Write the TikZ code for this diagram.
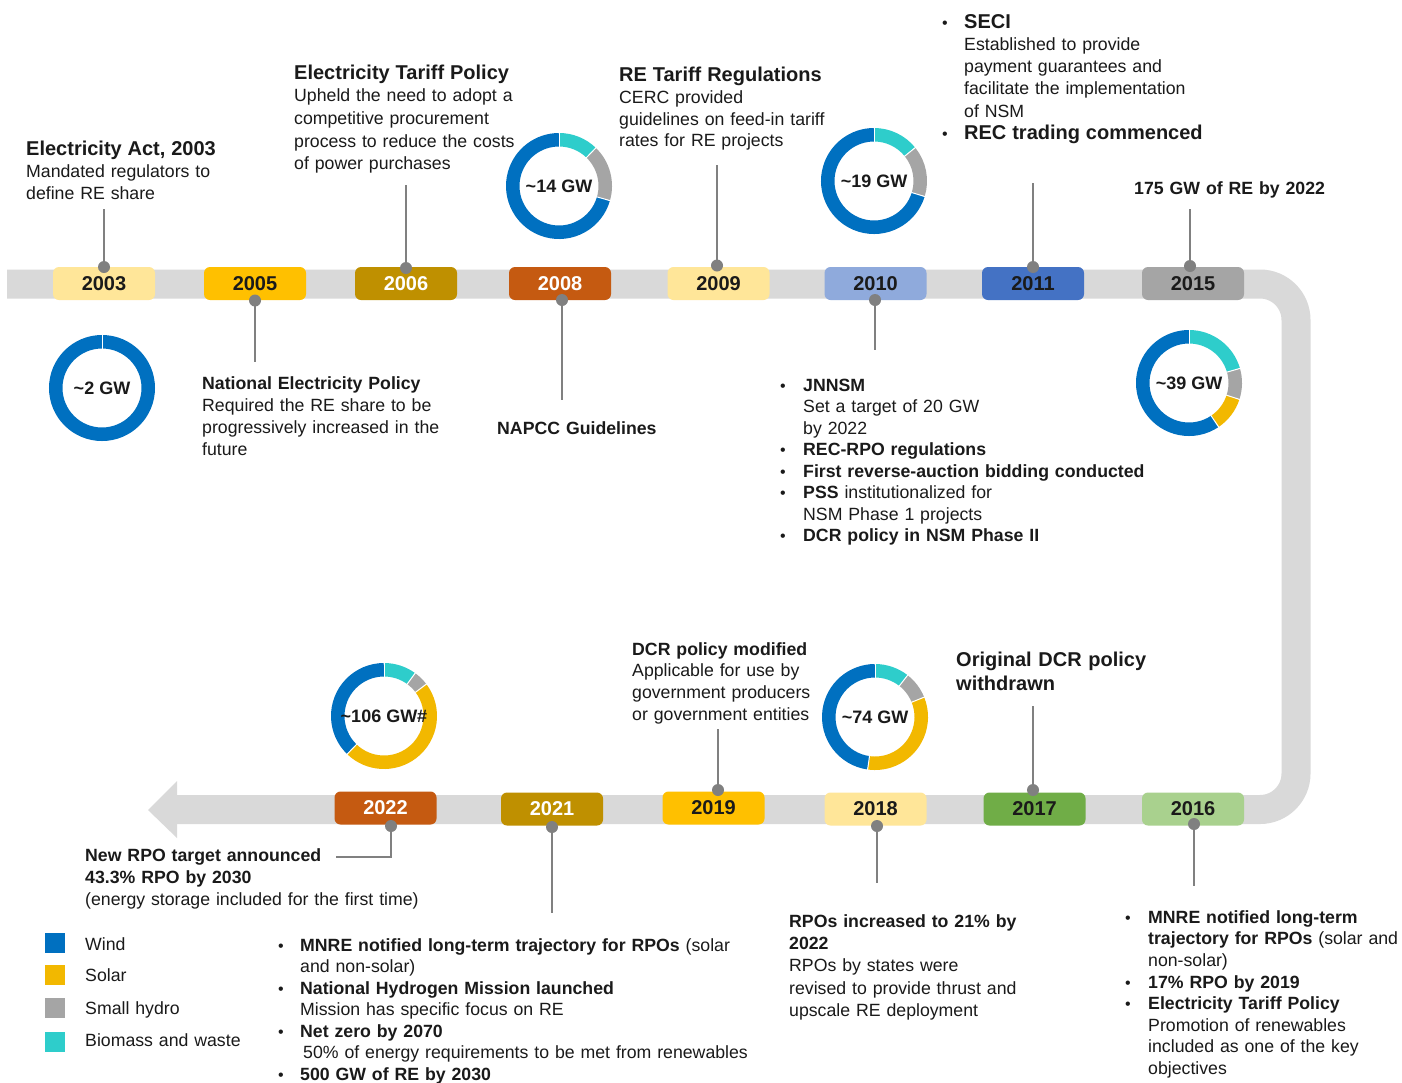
\documentclass[tikz,border=0pt]{standalone}
\usepackage{fontspec}
\setmainfont{Liberation Sans}
\usetikzlibrary{calc}
\definecolor{trackgray}{HTML}{D9D9D9}
\definecolor{conngray}{HTML}{808080}
\definecolor{ylight}{HTML}{FFE699}
\definecolor{yorange}{HTML}{FFC000}
\definecolor{ygold}{HTML}{BF9000}
\definecolor{yrust}{HTML}{C55A11}
\definecolor{yblueA}{HTML}{8FAADC}
\definecolor{yblueB}{HTML}{4472C4}
\definecolor{ygray}{HTML}{A5A5A5}
\definecolor{ygreenA}{HTML}{A9D18E}
\definecolor{ygreenB}{HTML}{70AD47}
\definecolor{cwind}{HTML}{0070C0}
\definecolor{csolar}{HTML}{F2B800}
\definecolor{chydro}{HTML}{A5A5A5}
\definecolor{cbio}{HTML}{2ECDCB}
\definecolor{txtc}{HTML}{1A1A1A}
\newcommand\hdA[1]{{\fontsize{20}{22}\selectfont\bfseries #1}}
\newcommand\dseg[4]{\draw[line width=13.5pt,#2] (#1) ++(#3:46.25pt) arc[start angle=#3,end angle=#4,radius=46.25pt];}
\newcommand\dsep[2]{\draw[white,line width=1pt] (#1) ++(#2:39pt) -- ++(#2:15pt);}
\begin{document}
\begin{tikzpicture}[x=1pt,y=-1pt,
  track/.style={draw=trackgray,line width=29pt},
  yearbox/.style={rectangle,rounded corners=6pt,minimum width=102pt,minimum height=33pt,inner sep=0pt,font=\fontsize{20}{24}\selectfont\bfseries,text=txtc},
  conn/.style={draw=conngray,line width=2pt},
  dotc/.style={fill=conngray},
  body/.style={anchor=base west,inner sep=0pt,align=left,text width=560pt,font=\fontsize{17.7}{22}\selectfont,text=txtc},
  bul/.style={anchor=base west,inner sep=0pt,font=\fontsize{16}{16}\selectfont,text=txtc},
  gwlabel/.style={inner sep=0pt,font=\fontsize{18}{20}\selectfont\bfseries,text=txtc},
  legsq/.style={rectangle,minimum size=20pt,inner sep=0pt}
]
\useasboundingbox (0,0) rectangle (1402,1082);
\fill[white] (0,0) rectangle (1402,1082);

% ---- track ----
\coordinate (tstart) at (7,284);
\coordinate (tcA) at (1296,284);
\coordinate (tcB) at (1296,809.5);
\coordinate (tend) at (177,809.5);
\coordinate (tip) at (148,810);
\coordinate (hA) at (177,781);
\coordinate (hB) at (177,838);
\draw[track,rounded corners=36pt] (tstart) -- (tcA) -- (tcB) -- (tend);
\fill[trackgray] (hA) -- (tip) -- (hB) -- cycle;

% ---- year badges ----
\node[yearbox,fill=ylight] (y2003) at (104,283.5) {2003};
\node[yearbox,fill=yorange] (y2005) at (255,283.5) {2005};
\node[yearbox,fill=ygold,text=white] (y2006) at (406,283.5) {2006};
\node[yearbox,fill=yrust,text=white] (y2008) at (560,283.5) {2008};
\node[yearbox,fill=ylight] (y2009) at (718.5,283.5) {2009};
\node[yearbox,fill=yblueA] (y2010) at (875.5,283.5) {2010};
\node[yearbox,fill=yblueB] (y2011) at (1033,283.5) {2011};
\node[yearbox,fill=ygray] (y2015) at (1193,283.5) {2015};
\node[yearbox,fill=ygreenA] (y2016) at (1193,809) {2016};
\node[yearbox,fill=ygreenB] (y2017) at (1034.5,809) {2017};
\node[yearbox,fill=ylight] (y2018) at (875.5,809) {2018};
\node[yearbox,fill=yorange] (y2019) at (713.5,808) {2019};
\node[yearbox,fill=ygold,text=white] (y2021) at (552,809) {2021};
\node[yearbox,fill=yrust,text=white] (y2022) at (385.5,808) {2022};

% ---- connectors ----
\coordinate (d2003) at (104,267);   \coordinate (e2003) at (104,209);
\coordinate (d2005) at (255,300.5); \coordinate (e2005) at (255,362);
\coordinate (d2006) at (406,268);   \coordinate (e2006) at (406,185);
\coordinate (d2008) at (562,300);   \coordinate (e2008) at (562,400);
\coordinate (d2009) at (717,265.5); \coordinate (e2009) at (717,165);
\coordinate (d2010) at (875,300);   \coordinate (e2010) at (875,350);
\coordinate (d2011) at (1033,267);  \coordinate (e2011) at (1033,183);
\coordinate (d2015) at (1190,266);  \coordinate (e2015) at (1190,209);
\coordinate (d2016) at (1194,824);  \coordinate (e2016) at (1194,886);
\coordinate (d2017) at (1033,790);  \coordinate (e2017) at (1033,706);
\coordinate (d2018) at (877,826);   \coordinate (e2018) at (877,883);
\coordinate (d2019) at (718,790);   \coordinate (e2019) at (718,729);
\coordinate (d2021) at (552,827);   \coordinate (e2021) at (552,913);
\coordinate (d2022) at (391,826);   \coordinate (k2022) at (391,857); \coordinate (e2022) at (336,857);
\foreach \yr in {2003,2005,2006,2008,2009,2010,2011,2015,2016,2017,2018,2019,2021}{
  \draw[conn] (d\yr) -- (e\yr);
  \fill[dotc] (d\yr) circle (6pt);
}
\draw[conn] (d2022) -- (k2022) -- (e2022);
\fill[dotc] (d2022) circle (6pt);

% ---- donuts ----
\node[gwlabel] (g2) at (102,388) {\textasciitilde2 GW};
\draw[cwind,line width=13.5pt] (g2.center) circle (46.25pt);
\dsep{g2.center}{90}

\node[gwlabel] (g14) at (559,186) {\textasciitilde14 GW};
\dseg{g14.center}{cbio}{90}{46}
\dseg{g14.center}{chydro}{46}{-16}
\dseg{g14.center}{cwind}{-16}{-270}
\dsep{g14.center}{90}\dsep{g14.center}{46}\dsep{g14.center}{-16}

\node[gwlabel] (g19) at (874,181) {\textasciitilde19 GW};
\dseg{g19.center}{cbio}{90}{39}
\dseg{g19.center}{chydro}{39}{-17}
\dseg{g19.center}{cwind}{-17}{-270}
\dsep{g19.center}{90}\dsep{g19.center}{39}\dsep{g19.center}{-17}

\node[gwlabel] (g39) at (1189,383) {\textasciitilde39 GW};
\dseg{g39.center}{cbio}{90}{16}
\dseg{g39.center}{chydro}{16}{-18}
\dseg{g39.center}{csolar}{-18}{-56}
\dseg{g39.center}{cwind}{-56}{-270}
\dsep{g39.center}{90}\dsep{g39.center}{16}\dsep{g39.center}{-18}\dsep{g39.center}{-56}

\node[gwlabel] (g74) at (875,717) {\textasciitilde74 GW};
\dseg{g74.center}{cbio}{90}{52}
\dseg{g74.center}{chydro}{52}{22}
\dseg{g74.center}{csolar}{22}{-98}
\dseg{g74.center}{cwind}{-98}{-270}
\dsep{g74.center}{90}\dsep{g74.center}{52}\dsep{g74.center}{22}\dsep{g74.center}{-98}

\coordinate (c106) at (384,716);
\dseg{c106}{cbio}{90}{54}
\dseg{c106}{chydro}{54}{37}
\dseg{c106}{csolar}{37}{-134}
\dseg{c106}{cwind}{-134}{-270}
\dsep{c106}{90}\dsep{c106}{54}\dsep{c106}{37}\dsep{c106}{-134}
\node[gwlabel] (g106) at (c106) {\textasciitilde106 GW\#};

% ---- texts, top ----
\node[body] (ea) at (26,155.7) {\hdA{Electricity Act, 2003}\\Mandated regulators to\\define RE share};
\node[body,font=\fontsize{17.7}{22.7}\selectfont] (etp) at (294,79) {\hdA{Electricity Tariff Policy}\\Upheld the need to adopt a\\competitive procurement\\process to reduce the costs\\of power purchases};
\node[body,font=\fontsize{17.7}{21.7}\selectfont] (ret) at (619,81.7) {\hdA{RE Tariff Regulations}\\CERC provided\\guidelines on feed-in tariff\\rates for RE projects};
\node[body,font=\fontsize{17.7}{22.2}\selectfont] (seci) at (964,28.3) {\hdA{SECI}\\Established to provide\\payment guarantees and\\facilitate the implementation\\of NSM\\\hdA{REC trading commenced}};
\node[bul] (bs1) at (942,28.3) {•};
\node[bul] (bs2) at (942,139.3) {•};
\node[body,font=\fontsize{17.7}{22}\selectfont\bfseries] (t175) at (1134,194) {175 GW of RE by 2022};

% ---- texts, middle ----
\node[body,font=\fontsize{17.7}{21.9}\selectfont] (nep) at (202,389.3) {\textbf{National Electricity Policy}\\Required the RE share to be\\progressively increased in the\\future};
\node[body,font=\fontsize{17.7}{22}\selectfont\bfseries] (napcc) at (497,434.5) {NAPCC Guidelines};
\node[body,font=\fontsize{17.7}{21.53}\selectfont] (jn) at (803,391) {\textbf{JNNSM}\\Set a target of 20 GW\\by 2022\\\textbf{REC-RPO regulations}\\\textbf{First reverse-auction bidding conducted}\\\textbf{PSS} institutionalized for\\NSM Phase 1 projects\\\textbf{DCR policy in NSM Phase II}};
\node[bul] (bj1) at (780,391) {•};
\node[bul] (bj2) at (780,455.6) {•};
\node[bul] (bj3) at (780,477.1) {•};
\node[bul] (bj4) at (780,498.7) {•};
\node[bul] (bj5) at (780,541.7) {•};

\node[body,font=\fontsize{17.7}{21.7}\selectfont] (dcrm) at (632,655) {\textbf{DCR policy modified}\\Applicable for use by\\government producers\\or government entities};
\node[body,font=\fontsize{20}{24.7}\selectfont\bfseries] (odcr) at (956,666) {Original DCR policy\\withdrawn};

% ---- texts, bottom ----
\node[body] (nrpo) at (85,861) {\textbf{New RPO target announced}\\\textbf{43.3\% RPO by 2030}\\(energy storage included for the first time)};
\node[body,font=\fontsize{17.7}{21.5}\selectfont] (b21) at (300,951) {\textbf{MNRE notified long-term trajectory for RPOs} (solar\\and non-solar)\\\textbf{National Hydrogen Mission launched}\\Mission has specific focus on RE\\\textbf{Net zero by 2070}\\\hspace*{3pt}50\% of energy requirements to be met from renewables\\\textbf{500 GW of RE by 2030}};
\node[bul] (bb1) at (278,951) {•};
\node[bul] (bb2) at (278,994) {•};
\node[bul] (bb3) at (278,1037) {•};
\node[bul] (bb4) at (278,1080) {•};

\node[body,font=\fontsize{17.7}{22.1}\selectfont] (rpo) at (789,927.7) {\textbf{RPOs increased to 21\% by}\\\textbf{2022}\\RPOs by states were\\revised to provide thrust and\\upscale RE deployment};

\node[body,font=\fontsize{17.7}{21.6}\selectfont] (b16) at (1148,923.3) {\textbf{MNRE notified long-term}\\\textbf{trajectory for RPOs} (solar and\\non-solar)\\\textbf{17\% RPO by 2019}\\\textbf{Electricity Tariff Policy}\\Promotion of renewables\\included as one of the key\\objectives};
\node[bul] (bx1) at (1125,923.3) {•};
\node[bul] (bx2) at (1125,988.1) {•};
\node[bul] (bx3) at (1125,1009.7) {•};

% ---- legend ----
\node[legsq,fill=cwind] (sqw) at (55,943) {};
\node[legsq,fill=csolar] (sqs) at (55,975) {};
\node[legsq,fill=chydro] (sqh) at (55,1008) {};
\node[legsq,fill=cbio] (sqb) at (55,1042) {};
\node[body] (lw) at (85,950) {Wind};
\node[body] (ls) at (85,981.7) {Solar};
\node[body] (lh) at (85,1014) {Small hydro};
\node[body] (lb) at (85,1046) {Biomass and waste};
\end{tikzpicture}
\end{document}
